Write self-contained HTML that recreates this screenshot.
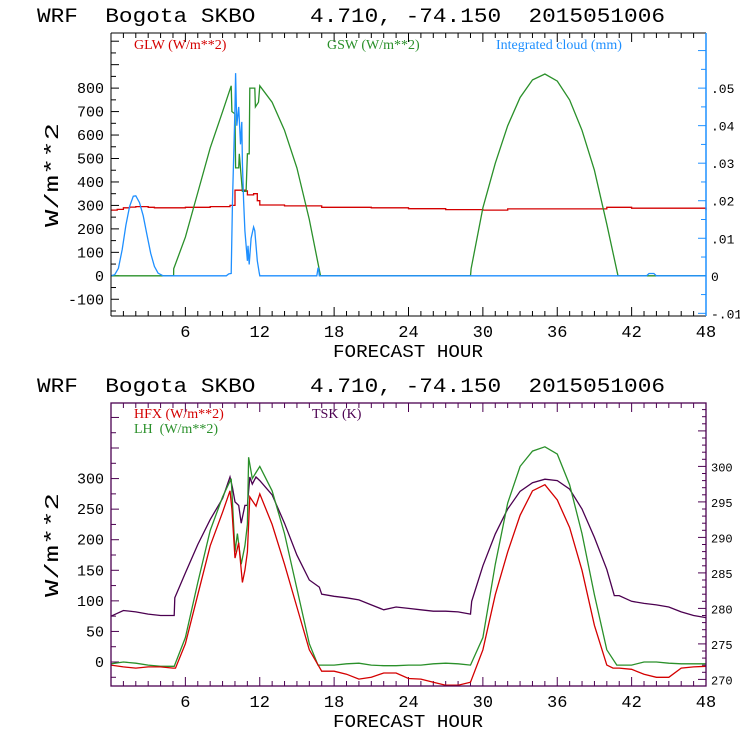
<!DOCTYPE html>
<html><head><meta charset="utf-8"><style>
html,body{margin:0;padding:0;background:#fff;}
svg{display:block;}
text{font-family:"Liberation Mono",monospace;white-space:pre;}
.lg{font-family:"Liberation Serif",serif;font-size:14px;}
</style></head><body>
<svg id="c" width="740" height="740" viewBox="0 0 740 740"></svg>
<script>
// ---------- data ----------
const xTickLabels = ["6","12","18","24","30","36","42","48"];
const topLeftTicks = [800,700,600,500,400,300,200,100,0,-100];
const topRightTicks = [".05",".04",".03",".02",".01","0","-.01"];
const topRightVals = [0.05,0.04,0.03,0.02,0.01,0,-0.01];
const botLeftTicks = [300,250,200,150,100,50,0];
const botRightTicks = [300,295,290,285,280,275,270];

const glwHours = [0,0.5,1,1.5,2,3,3.5,5,6,8,9.6,10,10.8,11,11.5,11.8,12,14,17,21,24,27,30,32,40,42,48];
const glwVals  = [280,283,290,293,295,292,290,290,292,295,300,365,362,345,350,320,302,298,292,290,286,282,280,285,292,288,280];

const gswHours = [0,5.05,5.06,6,7,8,9,9.7,9.75,10.0,10.05,10.3,10.35,10.6,10.9,11.0,11.15,11.2,11.6,11.65,11.9,12.0,13,14,15,16,16.9,29.0,29.05,30,31,32,33,34,35,36,37,38,39,40,40.9,48];
const gswVals  = [0,0,30,165,355,545,700,810,700,690,460,460,520,360,360,520,520,800,800,720,740,810,740,620,460,240,0,0,30,290,480,640,760,835,860,830,750,620,450,220,0,0];

const cldHours = [0,0.3,0.6,0.9,1.2,1.5,1.8,2.0,2.3,2.6,2.9,3.2,3.5,3.8,4.2,9.3,9.5,9.7,9.8,10.0,10.05,10.15,10.3,10.45,10.55,10.6,10.7,10.8,11.0,11.05,11.15,11.3,11.5,11.6,11.8,11.95,12.0,16.6,16.7,16.75,16.8,43.2,43.4,43.8,44.0,48];
const cldVals  = [0,0.0003,0.002,0.007,0.0135,0.0185,0.0212,0.0213,0.0195,0.016,0.011,0.006,0.0025,0.0007,0,0,0.0005,0.0006,0.02,0.045,0.054,0.04,0.045,0.035,0.041,0.03,0.02,0.012,0.004,0.008,0.003,0.01,0.013,0.012,0.004,0.001,0,0,0.002,0.002,0,0,0.0006,0.0006,0,0];

const hfxHours = [0,1,2,3,4,5,5.2,6,7,8,9,9.6,9.75,10,10.3,10.6,10.8,11,11.2,11.7,12,13,14,15,16,17,18,19,20,21,22,23,24,25,26,27,28,29,30,31,32,33,34,35,36,37,38,39,40,40.5,41,42,43,44,45,46,47,48];
const hfxVals  = [-5,-8,-10,-8,-8,-10,-10,30,110,190,245,280,250,170,195,130,150,180,270,255,275,225,160,90,20,-15,-15,-20,-28,-25,-18,-18,-27,-28,-33,-38,-38,-33,20,110,180,240,280,290,265,220,150,60,-5,-10,-10,-12,-20,-25,-25,-10,-8,-7];

const lhHours = [0,1,2,3,4,5.1,6,7,8,9,9.7,9.8,10,10.2,10.5,10.8,11,11.1,11.4,11.7,12,13,14,15,16,16.7,17,18,19,20,21,22,23,24,25,26,27,28,29,30,31,32,33,34,35,36,37,38,39,40,40.8,42,43,44,45,46,48];
const lhVals  = [-3,0,-2,-5,-7,-7,40,130,215,270,300,260,180,210,160,190,225,335,300,310,320,280,210,120,30,-5,-5,-5,-3,-2,-5,-6,-6,-5,-5,-3,-2,-3,-5,40,160,260,320,345,352,340,290,210,110,20,-5,-5,0,0,-2,-3,-3];

const tskHours = [0,1,2,3,4,5.1,5.15,6,7,8,9,9.6,9.8,10,10.3,10.5,10.8,11,11.2,11.4,11.7,12,13,14,15,16,16.8,17,18,19,20,21,22,23,24,25,26,27,28,29,29.1,30,31,32,33,34,35,36,37,38,39,40,40.6,41,42,43,44,45,46,47,48];
const tskVals  = [278.9,279.7,279.5,279.2,279,279,281.5,285,289,292.5,295.5,298.5,297,295,294.5,292,294.5,294.5,298.5,297.5,298.5,298,296,292,287.5,284,283,282,281.7,281.5,281.2,280.5,279.8,280.2,280,279.8,279.6,279.6,279.5,279.2,281,286,290.5,294,296.5,297.7,298.2,298,296.8,294,290,285.5,281.8,281.8,281,280.7,280.5,280.2,279.5,279,278.7];

// ---------- drawing ----------
const NS="http://www.w3.org/2000/svg";
const svg=document.getElementById('c');
function el(tag,attrs,parent){const e=document.createElementNS(NS,tag);for(const k in attrs)e.setAttribute(k,attrs[k]);(parent||svg).appendChild(e);return e;}
const X0=111,X1=706;
const xs=h=>X0+h*(X1-X0)/48;

function title(y){
  const t=el('text',{x:37,y:y,'font-size':20,textLength:628,lengthAdjust:'spacingAndGlyphs',fill:'#000'});
  t.setAttributeNS("http://www.w3.org/XML/1998/namespace","xml:space","preserve");
  t.textContent="WRF  Bogota SKBO    4.710, -74.150  2015051006";
  
  
}
function xAxis(top,bot,color,g){
  for(let h=1;h<48;h++){
    const len=h%6===0?9:5;
    el('line',{x1:xs(h),x2:xs(h),y1:bot,y2:bot-len,stroke:color},g);
    el('line',{x1:xs(h),x2:xs(h),y1:top,y2:top+len,stroke:color},g);
  }
  xTickLabels.forEach((lb,i)=>{
    const t=el('text',{x:xs((i+1)*6),y:bot+21,'font-size':17,'text-anchor':'middle',fill:'#000'},g);
    t.textContent=lb;
    
    
  });
  const t=el('text',{x:408,y:bot+41,'font-size':18,'text-anchor':'middle',textLength:150,lengthAdjust:'spacingAndGlyphs',fill:'#000'},g);
  t.textContent="FORECAST HOUR";
  
  
}
function yTitle(cx,cy,g){
  const t=el('text',{x:0,y:0,'font-size':19,'text-anchor':'middle',transform:`translate(${cx},${cy}) rotate(-90)`,textLength:104,lengthAdjust:'spacingAndGlyphs',fill:'#000'},g);
  t.textContent="W/m**2";
  
  
}
function poly(hours,vals,xf,yf,color,name,g){
  const pts=hours.map((h,i)=>xf(h).toFixed(1)+','+yf(vals[i]).toFixed(1)).join(' ');
  const p=el('polyline',{points:pts,fill:'none',stroke:color,'stroke-width':1.3},g);
  
  
}
function stepPoly(hours,vals,xf,yf,color,name,g){
  const arr=[];
  hours.forEach((h,i)=>{
    if(i>0)arr.push(xf(h).toFixed(1)+','+yf(vals[i-1]).toFixed(1));
    arr.push(xf(h).toFixed(1)+','+yf(vals[i]).toFixed(1));
  });
  const p=el('polyline',{points:arr.join(' '),fill:'none',stroke:color,'stroke-width':1.3},g);
  
  
}
function legend(x,y,txt,color,name,g){
  const t=el('text',{x:x,y:y,fill:color,class:'lg'},g);
  t.textContent=txt;
  
  
}

// ===== top panel =====
title(22);
const g1=el('g',{});


const T1=33,B1=316;
const y1=v=>275.8-v*0.2346;
const y1r=v=>y1(v*16000);
for(let v=-150;v<=1050;v+=50){const yy=y1(v);if(yy<T1+1||yy>B1-1)continue;el('line',{x1:X0,x2:X0+(v%100===0?8:5),y1:yy,y2:yy,stroke:'#000'},g1);}
topLeftTicks.forEach(v=>{
  const t=el('text',{x:104,y:y1(v)+5,'font-size':15,'text-anchor':'end',fill:'#000'},g1);
  t.textContent=String(v);
  
  
});
for(let v=-0.01;v<=0.065;v+=0.005){const yy=y1r(v);if(yy<T1+1||yy>B1-1)continue;el('line',{x1:X1,x2:X1-(Math.round(v*1000)%10===0?8:5),y1:yy,y2:yy,stroke:'#1e90ff'},g1);}
topRightTicks.forEach((lb,i)=>{
  const t=el('text',{x:711,y:y1r(topRightVals[i])+5,'font-size':13,fill:'#000'},g1);
  t.textContent=lb;
  
  
});
xAxis(T1,B1,'#000',g1);
yTitle(58,175,g1);
stepPoly(glwHours,glwVals,xs,y1,'#d40000','glw-line',g1);
poly(gswHours,gswVals,xs,y1,'#2a902a','gsw-line',g1);
poly(cldHours,cldVals,xs,y1r,'#1e8fff','cloud-line',g1);
el('line',{x1:X0,x2:X1,y1:T1,y2:T1,stroke:'#000'},g1);
el('line',{x1:X0,x2:X1,y1:B1,y2:B1,stroke:'#000'},g1);
el('line',{x1:X0,x2:X0,y1:T1,y2:B1,stroke:'#000'},g1);
el('line',{x1:X1,x2:X1,y1:T1,y2:B1,stroke:'#1e90ff','stroke-width':1.5},g1);
legend(134,49,"GLW (W/m**2)",'#d40000','legend-glw',g1);
legend(327,49,"GSW (W/m**2)",'#2a902a','legend-gsw',g1);
legend(496,49,"Integrated cloud (mm)",'#1e8fff','legend-cloud',g1);

// ===== bottom panel =====
title(392);
const g2=el('g',{});


const T2=403,B2=686,PC='#4b0050';
const y2=v=>662-v*0.6114;
const y2r=k=>679.4-(k-270)*7.1;
for(let v=-25;v<=425;v+=25){const yy=y2(v);if(yy<T2+1||yy>B2-1)continue;el('line',{x1:X0,x2:X0+(v%50===0?8:5),y1:yy,y2:yy,stroke:PC},g2);}
botLeftTicks.forEach(v=>{
  const t=el('text',{x:104,y:y2(v)+5,'font-size':15,'text-anchor':'end',fill:'#000'},g2);
  t.textContent=String(v);
  
  
});
for(let k=270;k<=309;k+=1){const yy=y2r(k);if(yy<T2+1||yy>B2-1)continue;el('line',{x1:X1,x2:X1-(k%5===0?8:4),y1:yy,y2:yy,stroke:PC},g2);}
botRightTicks.forEach(k=>{
  const t=el('text',{x:711,y:y2r(k)+5,'font-size':12,fill:'#000'},g2);
  t.textContent=String(k);
  
  
});
xAxis(T2,B2,PC,g2);
yTitle(58,545,g2);
poly(tskHours,tskVals,xs,y2r,'#4b0050','tsk-line',g2);
poly(lhHours,lhVals,xs,y2,'#2a902a','lh-line',g2);
poly(hfxHours,hfxVals,xs,y2,'#d40000','hfx-line',g2);
el('rect',{x:X0,y:T2,width:X1-X0,height:B2-T2,fill:'none',stroke:PC,'stroke-width':1.3},g2);
legend(134,418,"HFX (W/m**2)",'#d40000','legend-hfx',g2);
legend(134,433,"LH  (W/m**2)",'#2a902a','legend-lh',g2);
legend(312,418,"TSK (K)",'#4b0050','legend-tsk',g2);
</script>
</body></html>
